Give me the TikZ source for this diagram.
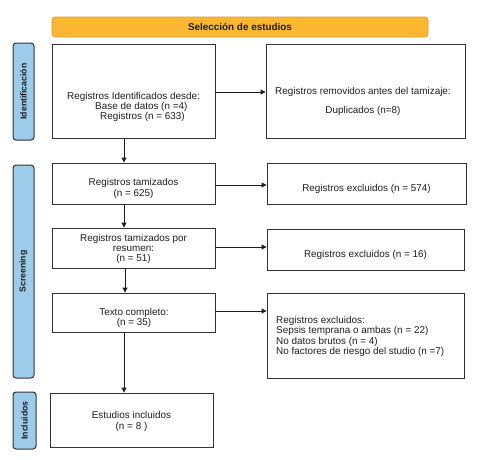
\documentclass[tikz,border=0pt]{standalone}
\usepackage{fontspec}
\setmainfont{Liberation Sans}
\usetikzlibrary{arrows.meta,calc}
\definecolor{barorange}{HTML}{FBB731}
\definecolor{barborder}{HTML}{D99A2B}
\definecolor{sideblue}{HTML}{9DCBEA}
\definecolor{ink}{HTML}{1E1E1E}
\definecolor{edge}{HTML}{333333}
\begin{document}
\begin{tikzpicture}[x=1pt,y=-1pt,
  box/.style={draw=edge,line width=0.9pt,fill=white,inner sep=0pt},
  txt/.style={text=ink,font=\fontsize{9.9}{10.2}\selectfont,inner sep=0pt},
  side/.style={draw=edge,line width=1pt,fill=sideblue,rounded corners=3pt,inner sep=0pt,minimum width=21pt},
  sidetxt/.style={text=ink,font=\fontsize{8.7}{10}\selectfont\bfseries,rotate=90,inner sep=0pt},
  arr/.style={draw=ink,line width=0.9pt,-{Triangle[length=5pt,width=5pt]}}]
\useasboundingbox (0,0) rectangle (481,459);
% title bar
\node[draw=barborder,line width=0.6pt,fill=barorange,rounded corners=3pt,minimum width=376pt,minimum height=20pt,inner sep=0pt,text=ink,font=\fontsize{9.9}{10}\selectfont\bfseries] (title) at (240,27) {Selección de estudios};
% side bars
\node[side,minimum height=97pt] (sid) at (23.5,91.5) {};
\node[sidetxt] (sidt) at (sid.center) {Identificación};
\node[side,minimum height=213pt] (sscr) at (23.5,271.5) {};
\node[sidetxt] (sscrt) at (sscr.center) {Screening};
\node[side,minimum width=23pt,minimum height=57pt] (sinc) at (24.5,420.5) {};
\node[sidetxt] (sinct) at (sinc.center) {Incluidos};
% boxes
\node[box,minimum width=163pt,minimum height=94pt] (b1) at (133.5,91) {};
\node[txt,align=left,anchor=west] (b1t) at (67,107) {Registros Identificados desde:\\\hspace*{28pt}Base de datos (n =4)\\\hspace*{33pt}Registros (n = 633)};
\node[box,minimum width=199pt,minimum height=94pt] (b2) at (365.5,91) {};
\node[txt,align=center] (b2t) at (363,101.5) {Registros removidos antes del tamizaje:\\[9pt]Duplicados (n=8)};
\node[box,minimum width=163pt,minimum height=41pt] (b3) at (133.5,183.5) {};
\node[txt,align=center] (b3t) at (133.5,188.5) {Registros tamizados\\(n = 625)};
\node[box,minimum width=199pt,minimum height=41pt] (b4) at (366.5,183.5) {};
\node[txt] (b4t) at (366.5,189) {Registros excluidos (n = 574)};
\node[box,minimum width=163pt,minimum height=40pt] (b5) at (133.5,248) {};
\node[txt,align=center] (b5t) at (133.5,249) {Registros tamizados por\\resumen:\\(n = 51)};
\node[box,minimum width=197pt,minimum height=41pt] (b6) at (365.5,249.5) {};
\node[txt] (b6t) at (365.5,255) {Registros excluidos (n = 16)};
\node[box,minimum width=163pt,minimum height=39pt] (b7) at (133.5,312.5) {};
\node[txt,align=center] (b7t) at (134,318) {Texto completo:\\(n = 35)};
\node[box,minimum width=197pt,minimum height=85pt] (b8) at (365.5,335.5) {};
\node[txt,align=left,anchor=west] (b8t) at (276,336.5) {Registros excluidos:\\Sepsis temprana o ambas (n = 22)\\No datos brutos (n = 4)\\No factores de riesgo del studio (n =7)};
\node[box,minimum width=163pt,minimum height=54pt] (b9) at (131.5,420) {};
\node[txt,align=center] (b9t) at (131.5,421.5) {Estudios incluidos\\(n = 8 )};
% connectors
\draw[arr] ([xshift=-9.5pt]b1.south) -- ([xshift=-9.5pt]b3.north);
\draw[arr] ([xshift=-9.5pt]b3.south) -- ([xshift=-9.5pt]b5.north);
\draw[arr] ([xshift=-8.5pt]b5.south) -- ([xshift=-8.5pt]b7.north);
\draw[arr] ([xshift=-9.5pt]b7.south) -- ([xshift=-7.5pt]b9.north);
\draw[arr] ([yshift=-1pt]b1.east) -- ([yshift=-1pt]b1.east -| b2.west);
\draw[arr] ([yshift=-1.5pt]b3.east) -- ([yshift=-1.5pt]b3.east -| b4.west);
\draw[arr] ([yshift=1pt]b5.east) -- ([yshift=1pt]b5.east -| b6.west);
\draw[arr] ([yshift=1.5pt]b7.east) -- ([yshift=1.5pt]b7.east -| b8.west);
\end{tikzpicture}
\end{document}
